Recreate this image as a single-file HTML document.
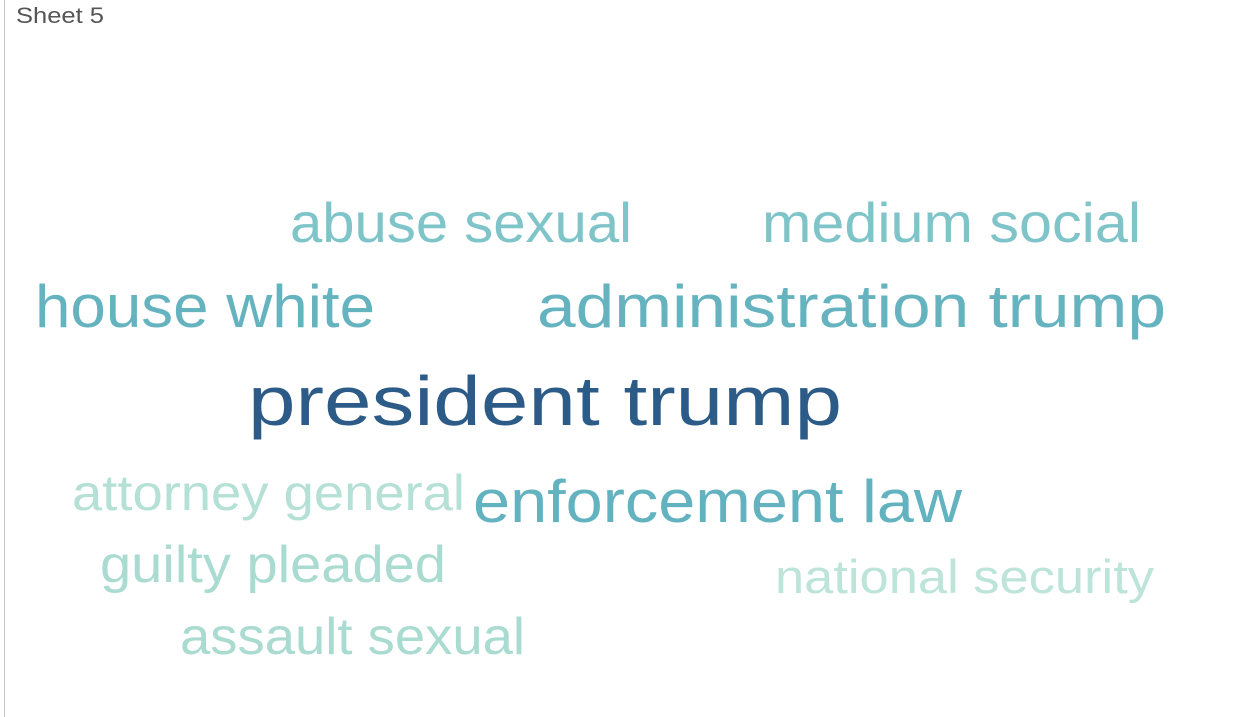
<!DOCTYPE html>
<html><head><meta charset="utf-8"><style>
html,body{margin:0;padding:0;background:#fff;width:1238px;height:717px;overflow:hidden}
svg{display:block}
text{font-family:"Liberation Sans","DejaVu Sans",sans-serif}
</style></head><body>
<svg width="1238" height="717">
<line x1="4.5" y1="0" x2="4.5" y2="717" stroke="#c8c8c8" stroke-width="1"/>
<text x="16" y="23" font-size="22" fill="#555" textLength="88" lengthAdjust="spacingAndGlyphs">Sheet 5</text>
<g id="cloud"></g>
</svg>
<script>
const words = ["abuse sexual","medium social","house white","administration trump","president trump","attorney general","enforcement law","guilty pleaded","national security","assault sexual"];
const counts = [7,7,8,8,12,5,8,6,4,6];
const colors = ["#7fc4c8","#7fc4c8","#66b3c0","#66b3c0","#2d5b87","#b5e0d5","#62b2bf","#a9dbd0","#bde4d9","#a9dbd0"];
const xs = [290,762,35,537,248,72,473,100,775,180];
const ys = [242,242,327,327,425,510,522,582,593,654];
const ws = [342,379,340,629,594,393,489,346,379,345];
const sizes = [56,56,60,60,70,50,60,52,47,52];
const g = document.getElementById('cloud');
words.forEach((w,i)=>{
  const t = document.createElementNS('http://www.w3.org/2000/svg','text');
  t.setAttribute('x',xs[i]);
  t.setAttribute('y',ys[i]);
  t.setAttribute('font-size',sizes[i]);
  t.setAttribute('fill',colors[i]);
  t.setAttribute('textLength',ws[i]);
  t.setAttribute('lengthAdjust','spacingAndGlyphs');
  t.textContent = w;
  
  
  g.appendChild(t);
});
</script>
</body></html>
